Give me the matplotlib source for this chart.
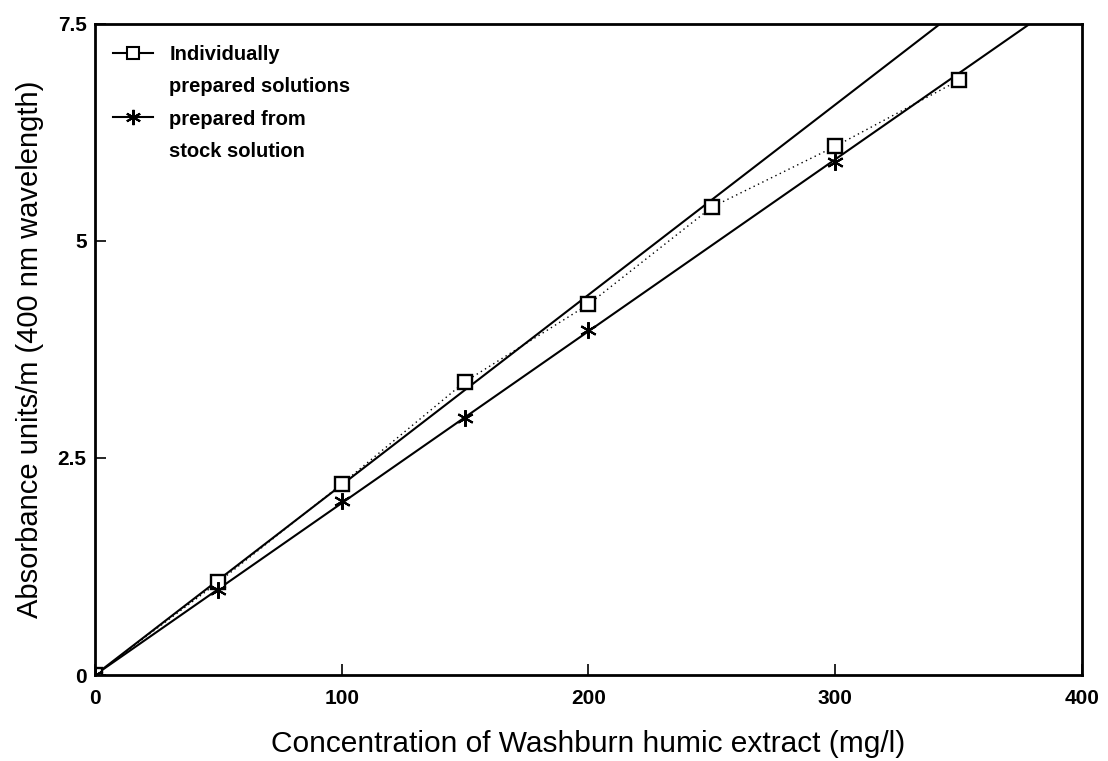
import numpy as np
import matplotlib
matplotlib.use("Agg")
import matplotlib.pyplot as plt
from matplotlib.lines import Line2D

plt.rcParams['font.family'] = ['Liberation Sans', 'DejaVu Sans']

# Absorbance readings (absorbance units/m at 400 nm)
conc_indiv = [0, 50, 100, 150, 200, 250, 300, 350]
abs_indiv = [0.0, 1.07, 2.20, 3.38, 4.27, 5.39, 6.09, 6.85]

conc_stock = [0, 50, 100, 150, 200, 300]
abs_stock = [0.0, 0.98, 2.00, 2.96, 3.97, 5.91]

# Slopes of the straight calibration lines through the origin
slope_indiv = 0.0219
slope_stock = 0.0198

x_ticks = [0, 100, 200, 300, 400]
y_ticks = [0, 2.5, 5, 7.5]
y_tick_labels = ['0', '2.5', '5', '7.5']


def main():
    fig = plt.figure(figsize=(11.08, 7.61), dpi=100)
    ax = fig.add_axes([0.0857, 0.113, 0.8908, 0.8555])

    xfit = np.array([0, 400])
    ax.plot(xfit, slope_indiv * xfit, color='black', lw=1.5)
    ax.plot(xfit, slope_stock * xfit, color='black', lw=1.5)

    ax.plot(conc_indiv, abs_indiv, color='black', ls=(0, (1, 2.5)), lw=1.0,
            marker='s', ms=10, mfc='white', mec='black', mew=1.7)
    ax.plot(conc_stock, abs_stock, ls='none', marker=(6, 2, 0), ms=12,
            mec='black', mew=1.5)

    ax.set_xlim(0, 400)
    ax.set_ylim(0, 7.5)
    ax.set_xticks(x_ticks)
    ax.set_xticklabels([str(t) for t in x_ticks], fontsize=15, fontweight='bold')
    ax.set_yticks(y_ticks)
    ax.set_yticklabels(y_tick_labels, fontsize=15, fontweight='bold')
    ax.tick_params(direction='in', length=8, width=1.2, pad=6)
    ax.tick_params(axis='x', pad=10)
    for s in ax.spines.values():
        s.set_linewidth(2.0)

    ax.set_xlabel('Concentration of Washburn humic extract (mg/l)', fontsize=21.5,
                  labelpad=16)
    ax.set_ylabel('Absorbance units/m (400 nm wavelength)', fontsize=21,
                  labelpad=10)

    # legend with the second line of each label as its own blank entry
    blank = Line2D([], [], ls='none')
    handles = [
        Line2D([], [], color='black', lw=1.5, marker='s', ms=9, mfc='white',
               mec='black', mew=1.5),
        blank,
        Line2D([], [], color='black', lw=1.5, marker=(6, 2, 0), ms=11,
               mec='black', mew=1.5),
        blank,
    ]
    labels = ['Individually', 'prepared solutions', 'prepared from', 'stock solution']
    ax.legend(handles, labels, loc='upper left', frameon=False,
              prop={'size': 14.5, 'weight': 'bold'}, handlelength=2.0,
              handletextpad=0.8, labelspacing=0.65,
              bbox_to_anchor=(0.0, 0.995))

    fig.savefig('out.png', dpi=100)


if __name__ == "__main__":
    main()
